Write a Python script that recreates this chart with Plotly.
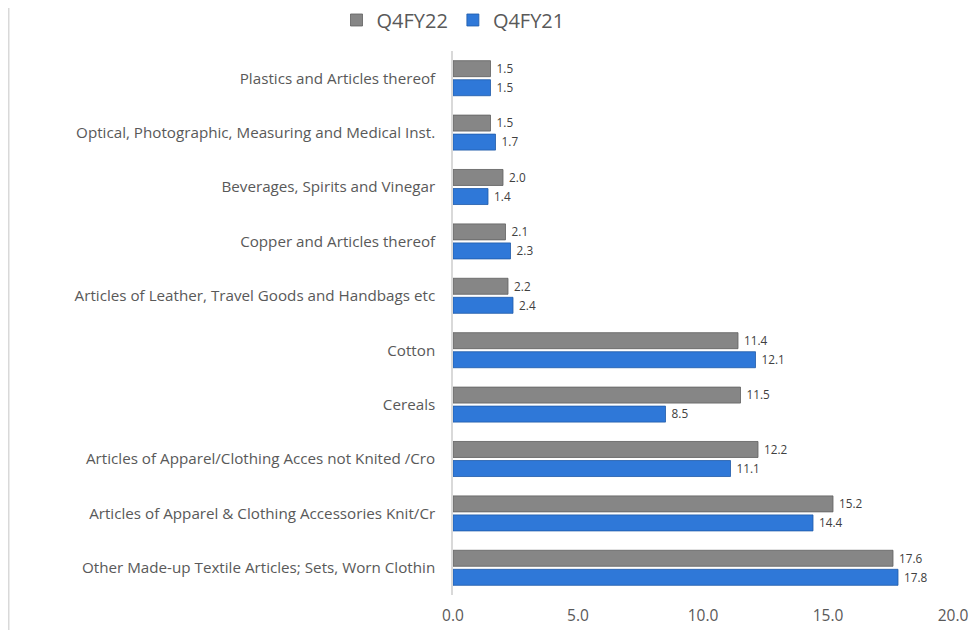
import plotly.graph_objects as go

categories = [
    "Plastics and Articles thereof",
    "Optical, Photographic, Measuring and Medical Inst.",
    "Beverages, Spirits and Vinegar",
    "Copper and Articles thereof",
    "Articles of Leather, Travel Goods and Handbags etc",
    "Cotton",
    "Cereals",
    "Articles of Apparel/Clothing Acces not Knited /Cro",
    "Articles of Apparel & Clothing Accessories Knit/Cr",
    "Other Made-up Textile Articles; Sets, Worn Clothin",
]
q4fy22 = [1.5, 1.5, 2.0, 2.1, 2.2, 11.4, 11.5, 12.2, 15.2, 17.6]
q4fy21 = [1.5, 1.7, 1.4, 2.3, 2.4, 12.1, 8.5, 11.1, 14.4, 17.8]
x_ticks = [0, 5, 10, 15, 20]

FONT = "Open Sans"
TXT = "#595959"

fig = go.Figure()
fig.add_trace(go.Bar(
    y=categories, x=q4fy22, name="Q4FY22", orientation="h",
    marker=dict(color="#868686", line=dict(color="#606060", width=0.8)),
    text=[f"{v:.1f}" for v in q4fy22], texttemplate=" %{text}",
    textposition="outside", cliponaxis=False,
    textfont=dict(family=FONT, size=12.5, color="#404040"),
))
fig.add_trace(go.Bar(
    y=categories, x=q4fy21, name="Q4FY21", orientation="h",
    marker=dict(color="#2f78d8", line=dict(color="#1f5aa8", width=0.8)),
    text=[f"{v:.1f}" for v in q4fy21], texttemplate=" %{text}",
    textposition="outside", cliponaxis=False,
    textfont=dict(family=FONT, size=12.5, color="#404040"),
))

fig.update_layout(
    width=969, height=622,
    margin=dict(l=445, r=24, t=43, b=35, autoexpand=False),
    paper_bgcolor="white", plot_bgcolor="white",
    barmode="group", bargap=0.30, bargroupgap=0.16,
    font=dict(family=FONT, color=TXT),
    showlegend=True,
    legend=dict(orientation="h", x=0.0, xanchor="center", xref="paper",
                y=1.057, yanchor="middle", yref="paper",
                font=dict(size=20, color=TXT), itemwidth=30,
                traceorder="normal"),
    xaxis=dict(range=[0, 20], tickvals=x_ticks, ticktext=[f"{v:.1f}" for v in x_ticks],
               showgrid=False, zeroline=False, showline=False,
               tickfont=dict(size=15.5, color=TXT), ticks="", ticklabelstandoff=9),
    yaxis=dict(autorange="reversed", showgrid=False, showline=True, linecolor="#d9d9d9",
               linewidth=1.5, ticks="", tickfont=dict(size=15.2, color=TXT),
               ticklabelstandoff=13),
    shapes=[dict(type="line", xref="paper", yref="paper",
                 x0=-0.8885, x1=-0.8885, y0=-0.1, y1=1.1,
                 line=dict(color="#d9d9d9", width=1.5))],
)

fig.write_html("out.html")
